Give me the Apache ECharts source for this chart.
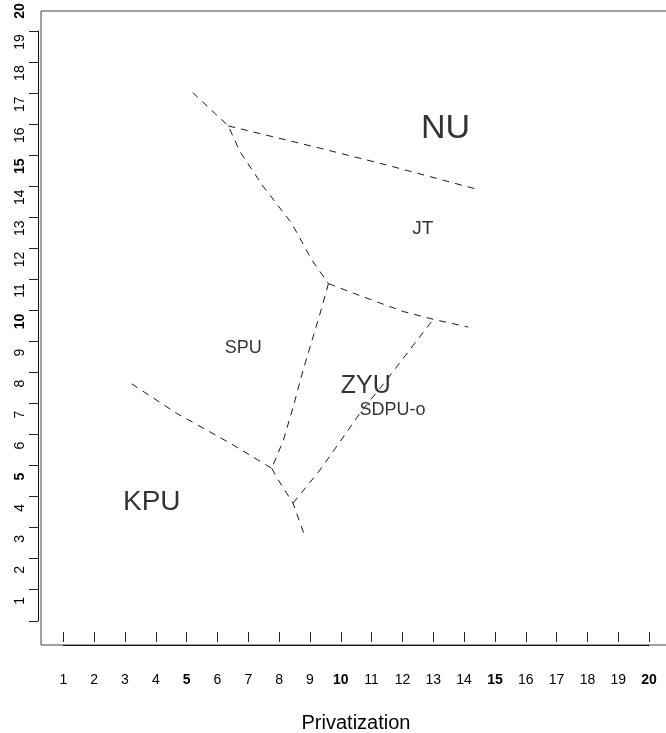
<!DOCTYPE html>
<html>
<head>
<meta charset="utf-8">
<script src="https://cdn.jsdelivr.net/npm/echarts@6/dist/echarts.min.js"></script>
<style>
html,body{margin:0;padding:0;background:#fff;}
#chart{width:666px;height:733px;}
</style>
</head>
<body>
<div id="chart"></div>
<script>
// ---- axis values ----
const xTickValues = [1,2,3,4,5,6,7,8,9,10,11,12,13,14,15,16,17,18,19,20];
const yLabelValues = [1,2,3,4,5,6,7,8,9,10,11,12,13,14,15,16,17,18,19,20];
const yTickMarks = [0.36,1.36,2.36,3.36,4.36,5.36,6.36,7.36,8.36,9.36,10.36,11.36,12.36,13.36,14.36,15.36,16.36,17.36,18.36,19.36];
const xAxisName = 'Privatization';

// ---- boundary lines (data coordinates) ----
const upperDivide = [[5.20,17.37],[6.35,16.30],[6.73,15.47],[7.49,14.34],[8.41,13.16],[9.06,11.98],[9.60,11.22]];
const nuBoundary = [[6.35,16.30],[9.33,15.58],[11.49,15.04],[14.41,14.26]];
const jtBoundary = [[9.60,11.22],[10.41,10.91],[12.03,10.32],[13.00,10.07],[14.13,9.82]];
const spuZyuBoundary = [[9.60,11.22],[9.33,10.26],[8.78,8.44],[8.46,7.26],[8.14,6.18],[7.76,5.27]];
const kpuSpuBoundary = [[3.22,7.99],[4.68,7.04],[6.41,6.08],[7.76,5.27]];
const lowerDivide = [[7.76,5.27],[7.97,4.90],[8.45,4.15],[8.84,3.07]];
const zyuRightBoundary = [[8.45,4.15],[9.33,5.22],[10.62,7.04],[11.49,8.12],[13.00,10.07]];

// ---- region labels ----
const regionNames = ['NU','JT','SPU','ZYU','SDPU-o','KPU'];
const regionX = [13.40,12.66,6.84,10.81,11.68,3.87];
const regionY = [16.20,12.98,9.14,7.93,7.16,4.17];
const regionSize = [34,19,18,25,18,28];

const FONT = "'Liberation Sans', Arial, sans-serif";
const chart = echarts.init(document.getElementById('chart'), null, {renderer:'canvas'});

function lineSeries(data){
  return {
    type:'line', xAxisIndex:0, yAxisIndex:0, data:data,
    showSymbol:false, symbol:'none', silent:true, animation:false,
    lineStyle:{color:'#1a1a1a', width:1, type:[7,6]}
  };
}

const boldFmt = function(v){ return (v % 5 === 0) ? '{b|' + v + '}' : '{n|' + v + '}'; };
const richLab = {
  b:{fontWeight:'bold', fontSize:14, fontFamily:FONT, color:'#000'},
  n:{fontWeight:'normal', fontSize:14, fontFamily:FONT, color:'#000'}
};

const option = {
  animation:false,
  backgroundColor:'#fff',
  grid:[
    {left:41, top:11, width:630, bottom:88, show:true, borderColor:'#444', borderWidth:1, containLabel:false, outerBoundsMode:'none'},
    {left:38, top:31, width:1, height:590, show:false, outerBoundsMode:'none'},
    {left:63.3, width:585.7, top:644, height:1, show:false, outerBoundsMode:'none'}
  ],
  xAxis:[
    {
      gridIndex:0, type:'value', min:0.2767, max:20.711, position:'bottom',
      axisLine:{show:false},
      splitLine:{show:false},
      axisTick:{show:true, customValues:xTickValues, length:10, lineStyle:{color:'#222', width:1}},
      axisLabel:{customValues:xTickValues, margin:28, formatter:boldFmt, rich:richLab, fontFamily:FONT, fontSize:14, color:'#000'},
      name:xAxisName, nameLocation:'middle', nameGap:68,
      nameTextStyle:{fontFamily:FONT, fontSize:20, color:'#000'}
    },
    {gridIndex:1, type:'value', min:0, max:1, show:false},
    {
      gridIndex:2, type:'value', min:0, max:1, position:'bottom',
      axisLine:{show:true, lineStyle:{color:'#111', width:1}},
      axisTick:{show:false}, axisLabel:{show:false}, splitLine:{show:false}
    }
  ],
  yAxis:[
    {
      gridIndex:0, type:'value', min:-0.42, max:20, position:'left', offset:3,
      axisLine:{show:false},
      splitLine:{show:false},
      axisTick:{show:true, customValues:yTickMarks, length:9, lineStyle:{color:'#222', width:1}},
      axisLabel:{customValues:yLabelValues, rotate:90, margin:11, formatter:boldFmt, rich:richLab, fontFamily:FONT, fontSize:14, color:'#000'}
    },
    {
      gridIndex:1, type:'value', min:0, max:1, position:'left',
      axisLine:{show:true, lineStyle:{color:'#111', width:1}},
      axisTick:{show:false}, axisLabel:{show:false}, splitLine:{show:false}
    },
    {gridIndex:2, type:'value', min:0, max:1, show:false}
  ],
  series:[
    lineSeries(upperDivide),
    lineSeries(nuBoundary),
    lineSeries(jtBoundary),
    lineSeries(spuZyuBoundary),
    lineSeries(kpuSpuBoundary),
    lineSeries(lowerDivide),
    lineSeries(zyuRightBoundary),
    {
      type:'scatter', xAxisIndex:0, yAxisIndex:0, silent:true, animation:false,
      symbolSize:0,
      data: regionNames.map(function(n,i){
        return {
          value:[regionX[i], regionY[i]],
          label:{show:true, position:'inside', formatter:n, fontSize:regionSize[i],
                 fontFamily:FONT, color:'#000', align:'center', verticalAlign:'middle'}
        };
      })
    }
  ]
};
chart.setOption(option);
</script>
</body>
</html>
